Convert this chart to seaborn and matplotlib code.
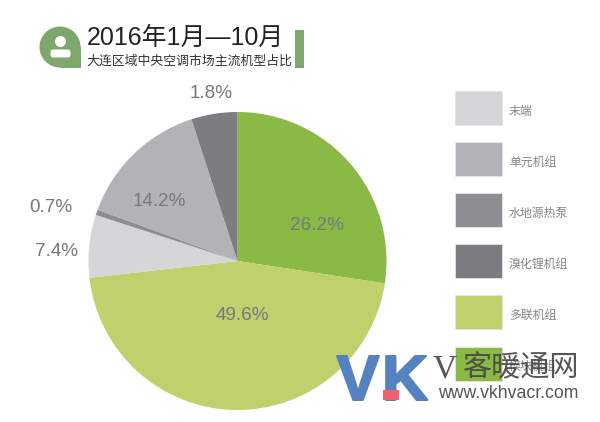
"""Pie of central AC market share by unit type, Dalian region, Jan-Oct 2016."""
import matplotlib
matplotlib.use("Agg")
import matplotlib.patheffects as pe
import matplotlib.pyplot as plt
import seaborn as sns
from matplotlib.patches import Circle, FancyBboxPatch, Rectangle

W, H = 600, 422

# slice sizes read off the drawn angles, clockwise from 12 o'clock
# (they differ from the printed percentages, the source chart is drawn that way)
slice_shares = [27.4, 45.8, 6.8, 0.6, 14.4, 5.0]
slice_labels = ["26.2%", "49.6%", "7.4%", "0.7%", "14.2%", "1.8%"]
slice_colors = ["#8aba45", "#bfd06c", "#d5d6d7", "#8d8e92", "#b2b3b6", "#7c7d81"]

legend_names = ["末端", "单元机组", "水地源热泵", "溴化锂机组", "多联机组", "模块机组"]
legend_colors = ["#d5d6d7", "#b2b3b6", "#8d8e92", "#7c7d81", "#bfd06c", "#8aba45"]

title_text = "2016年1月—10月"
subtitle_text = "大连区域中央空调市场主流机型占比"

LATIN_CJK = ["Liberation Sans", "Noto Sans CJK SC", "DejaVu Sans"]
BADGE = "#7fa66c"
LOGO_BLUE = "#5583c0"

sns.set_theme(style="white")
plt.rcParams["font.family"] = ["Noto Sans CJK SC", "DejaVu Sans"]

fig = plt.figure(figsize=(W / 100, H / 100), dpi=100)

# pie, axes placed in pixels so that radius comes out at 149
cx, cy, r = 237.5, 261, 149
ax = fig.add_axes([(cx - r) / W, 1 - (cy + r) / H, 2 * r / W, 2 * r / H])
ax.pie(slice_shares, colors=slice_colors, startangle=90, counterclock=False,
       radius=1, wedgeprops=dict(linewidth=0))
ax.set_xlim(-1, 1)
ax.set_ylim(-1, 1)

# overlay in pixel coordinates for everything else
bg = fig.add_axes([0, 0, 1, 1])
bg.set_xlim(0, W)
bg.set_ylim(H, 0)
bg.axis("off")
bg.patch.set_visible(False)

# printed percentages
label_pos = [(317, 226), (242, 316), (56, 252), (50.5, 207), (159.5, 201), (211, 93)]
for txt, (x, y) in zip(slice_labels, label_pos):
    bg.text(x, y, txt, ha="center", va="center", fontsize=13.6, color="#77787a",
            fontfamily=LATIN_CJK)

# legend swatches
for i, (name, col) in enumerate(zip(legend_names, legend_colors)):
    y0 = 91 + i * 51.1
    bg.add_patch(Rectangle((455, y0), 47, 34, facecolor=col, edgecolor="#e4e4e4", linewidth=0.6))
    bg.text(509, y0 + 20, name, ha="left", va="center", fontsize=8.6, color="#858585")

# header badge
bg.add_patch(Circle((60, 47), 20.5, facecolor=BADGE, edgecolor="none"))
bg.add_patch(Rectangle((60, 47), 20.5, 20.5, facecolor=BADGE, edgecolor="none"))
bg.add_patch(Circle((60.5, 41.5), 5.5, facecolor="white", edgecolor="none"))
bg.add_patch(FancyBboxPatch((53, 52), 15, 3, boxstyle="round,pad=2.5", facecolor="white",
                            edgecolor="none"))
bg.add_patch(Rectangle((295, 30), 9, 38, facecolor=BADGE, edgecolor="none"))
bg.text(87, 38, title_text, ha="left", va="center", fontsize=18, color="#222222",
        fontfamily=LATIN_CJK)
bg.text(86, 61, subtitle_text, ha="left", va="center", fontsize=9.25, color="#333333")

# watermark
thick = [pe.withStroke(linewidth=1.5, foreground=LOGO_BLUE)]
bg.text(358, 400, "V", ha="center", va="baseline", fontsize=46, fontweight="bold",
        color=LOGO_BLUE, fontfamily=["Liberation Sans"], path_effects=thick)
bg.text(405, 400, "K", ha="center", va="baseline", fontsize=46, fontweight="bold",
        color=LOGO_BLUE, fontfamily=["Liberation Sans"], path_effects=thick)
bg.add_patch(Rectangle((383, 390), 16, 10, facecolor="#f0606e", edgecolor="none", zorder=7))
bg.text(433, 377, "V", ha="left", va="baseline", fontsize=24, color="#555555", zorder=7,
        fontfamily=["Liberation Serif"])
bg.text(463, 368, "客暖通网", ha="left", va="center", fontsize=21, color="#444444", alpha=0.9,
        zorder=7)
bg.text(438, 393, "www.vkhvacr.com", ha="left", va="center", fontsize=12.7, color="#555555",
        zorder=7, fontfamily=["Liberation Sans"])

fig.savefig("out.png", dpi=100, facecolor="white")
